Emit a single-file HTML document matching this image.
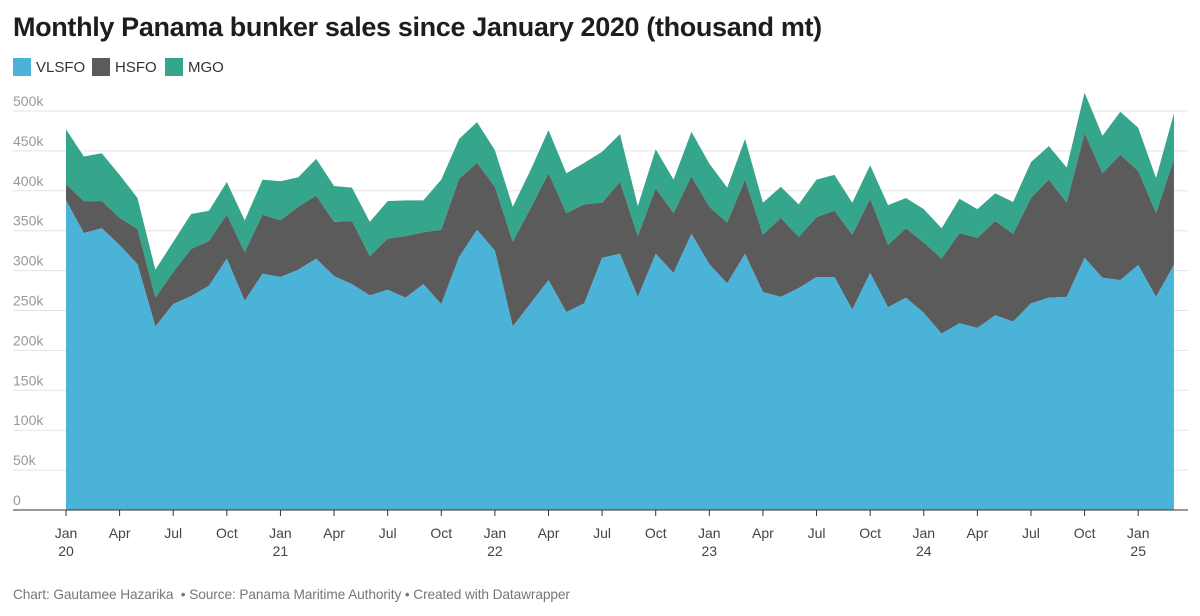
<!DOCTYPE html>
<html><head><meta charset="utf-8">
<style>
body{margin:0;background:#fff;font-family:"Liberation Sans",sans-serif;}
#wrap{position:relative;width:1200px;height:616px;overflow:hidden;}
h1{position:absolute;left:13px;top:12px;margin:0;font-size:27px;font-weight:bold;color:#1d1d1d;letter-spacing:-0.35px;}
.leg{position:absolute;top:58px;display:flex;align-items:center;font-size:15px;color:#333;}
.sw{width:18px;height:18px;margin-right:5px;display:inline-block;}
#foot{position:absolute;left:13px;top:587px;font-size:13.7px;color:#777;letter-spacing:-0.1px;}
</style></head><body>
<div id="wrap">
<h1>Monthly Panama bunker sales since January 2020 (thousand mt)</h1>
<div class="leg" style="left:13px"><span class="sw" style="background:#4bb3d8"></span>VLSFO</div>
<div class="leg" style="left:92px"><span class="sw" style="background:#5b5b5b"></span>HSFO</div>
<div class="leg" style="left:165px"><span class="sw" style="background:#35a68c"></span>MGO</div>
<svg id="svg" width="1200" height="616" style="position:absolute;left:0;top:0"></svg>
<div id="foot">Chart: Gautamee Hazarika &nbsp;• Source: Panama Maritime Authority • Created with Datawrapper</div>
</div>
<script>
const vlsfo=[388,347,353,332,308,230,258,268,281,315,262,296,292,301,315,293,283,269,276,266,283,258,317,351,325,230,259,288,248,259,316,321,267,321,297,346,308,284,321,273,267,278,292,292,251,297,254,266,247,221,234,228,244,236,259,266,267,316,291,288,307,267,307];
const hsfo=[20,40,34,34,44,36,40,59,56,55,61,74,71,79,79,68,79,49,64,77,65,93,98,84,80,106,119,134,124,124,69,90,76,82,75,72,72,76,93,72,99,64,75,83,94,93,78,87,88,94,113,113,118,110,132,148,118,156,131,157,118,105,132];
const mgo=[69,56,60,54,39,35,38,44,38,41,40,44,49,37,46,45,42,43,47,45,40,63,50,51,46,44,48,54,50,52,64,60,38,49,42,56,54,44,51,40,39,41,47,45,40,42,50,38,42,38,43,36,35,40,45,42,44,51,47,54,54,44,58];
const yTicks=[0,50,100,150,200,250,300,350,400,450,500];
const yLabels=["0","50k","100k","150k","200k","250k","300k","350k","400k","450k","500k"];
const xTickIdx=[0,3,6,9,12,15,18,21,24,27,30,33,36,39,42,45,48,51,54,57,60];
const monthNames=["Jan","Apr","Jul","Oct"];
const NS="http://www.w3.org/2000/svg";
const svg=document.getElementById('svg');
const X=i=>66+i*17.87;
const Y=v=>510-v*0.798;
function mk(t,a){const e=document.createElementNS(NS,t);for(const k in a)e.setAttribute(k,a[k]);svg.appendChild(e);return e;}
yTicks.forEach((v,k)=>{
  if(v>0){const l=mk('line',{x1:13,x2:1188,y1:Y(v),y2:Y(v),stroke:'#e3e3e3','stroke-width':1});
  
  }
  const t=mk('text',{x:13,y:Y(v)-5,'font-size':14,fill:'#999','font-family':'Liberation Sans, sans-serif'});
  t.textContent=yLabels[k];
  
  
});
const n=vlsfo.length;
const b1=vlsfo.map(v=>v), b2=vlsfo.map((v,i)=>v+hsfo[i]), b3=b2.map((v,i)=>v+mgo[i]);
function area(top,bot,color,name){
  let d='M'+X(0)+','+Y(top[0]);
  for(let i=1;i<n;i++)d+='L'+X(i)+','+Y(top[i]);
  for(let i=n-1;i>=0;i--)d+='L'+X(i)+','+Y(bot?bot[i]:0);
  const p=mk('path',{d:d+'Z',fill:color});
  
  
}
area(b3,b2,'#35a68c','area-mgo');
area(b2,b1,'#5b5b5b','area-hsfo');
area(b1,null,'#4bb3d8','area-vlsfo');
const ax=mk('line',{x1:13,x2:1188,y1:510,y2:510,stroke:'#333','stroke-width':1});


xTickIdx.forEach(i=>{
  const tk=mk('line',{x1:X(i),x2:X(i),y1:510,y2:516,stroke:'#333'});
  
  
  const t=mk('text',{x:X(i),y:538,'font-size':14,fill:'#444','text-anchor':'middle','font-family':'Liberation Sans, sans-serif'});
  t.textContent=monthNames[(i%12)/3];
  
  
  if(i%12===0){const y=mk('text',{x:X(i),y:556,'font-size':14,fill:'#444','text-anchor':'middle','font-family':'Liberation Sans, sans-serif'});
  y.textContent=String(20+i/12);
  
  }
});
</script>
</body></html>
